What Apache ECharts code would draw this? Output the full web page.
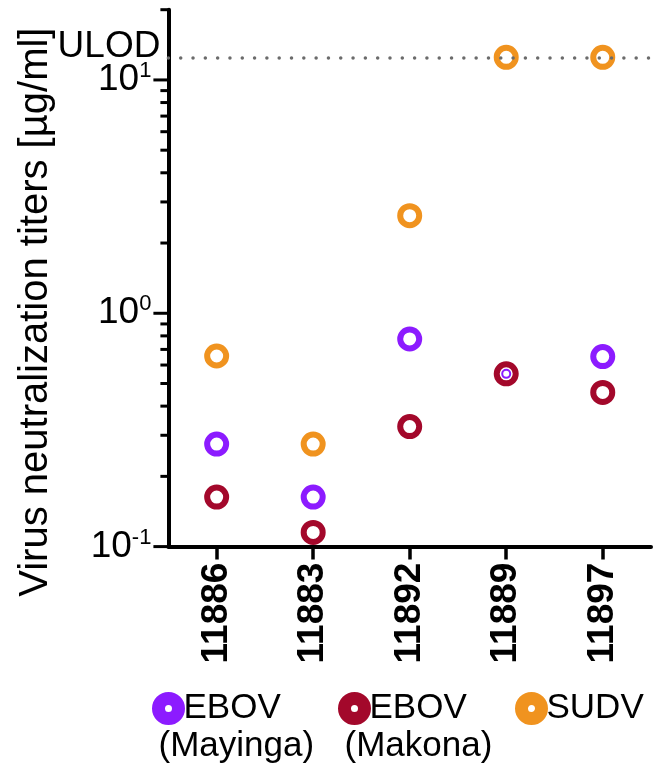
<!DOCTYPE html>
<html><head><meta charset="utf-8">
<script src="https://cdn.jsdelivr.net/npm/echarts@6/dist/echarts.min.js"></script>
<style>html,body{margin:0;padding:0;background:#fff}#c{width:670px;height:772px}</style>
</head><body><div id="c"></div>
<script>
// ---- data ----
const categories = ['11886', '11883', '11892', '11889', '11897'];
const ebovMayinga = [0.275, 0.163, 0.776, 0.55, 0.652];
const ebovMakona  = [0.163, 0.115, 0.327, 0.55, 0.458];
const sudv        = [0.656, 0.275, 2.62, 12.5, 12.5];
const ulod = 12.5;
const yMajorTicks = [0.1, 1, 10];
const yMinorTicks = [0.2, 0.3, 0.4, 0.5, 0.6, 0.7, 0.8, 0.9, 2, 3, 4, 5, 6, 7, 8, 9, 20];
const seriesNames = ['EBOV (Mayinga)', 'EBOV (Makona)', 'SUDV'];
const legendLines = [['EBOV', '(Mayinga)'], ['EBOV', '(Makona)'], ['SUDV']];

// ---- style ----
const colors = ['#8C1BFF', '#A3082B', '#F0931F'];
const FONT = '"Liberation Sans", Arial, Helvetica, sans-serif';
const chart = echarts.init(document.getElementById('c'));

const yMin = 0.1, yMax = 20;
const ringSize = 19, ringWidth = 6;

function ringSeries(idx, values, extra) {
  return Object.assign({
    name: seriesNames[idx],
    type: 'scatter',
    symbol: 'circle',
    symbolSize: ringSize,
    itemStyle: { color: 'rgba(0,0,0,0)', borderColor: colors[idx], borderWidth: ringWidth, opacity: 1 },
    emphasis: { disabled: true },
    data: values
  }, extra || {});
}

// y-axis ticks drawn through the axis scale; the line reaches into the plot
// but only its outer part is stroked (dash pattern)
function tickSeries(name, values, len) {
  return {
    type: 'custom',
    name: name,
    coordinateSystem: 'cartesian2d',
    silent: true,
    clip: false,
    z: 10,
    data: values.map(v => [0, v]),
    renderItem: function (params, api) {
      const p = api.coord([api.value(0), api.value(1)]);
      const x0 = params.coordSys.x;
      return {
        type: 'line',
        shape: { x1: x0 - len, y1: p[1], x2: x0 + 30, y2: p[1] },
        style: { stroke: '#000', lineWidth: 3, lineDash: [len + 1, 200] }
      };
    }
  };
}

const legendRich = {
  t: { fontSize: 35, lineHeight: 38, fontFamily: FONT, color: '#000', padding: [0, 0, 0, 5] },
  u: { fontSize: 35, lineHeight: 38, fontFamily: FONT, color: '#000' }
};
colors.forEach((c, i) => {
  legendRich['r' + i] = { width: 20, height: 20, borderWidth: 6.5, borderColor: c, borderRadius: 10, backgroundColor: 'rgba(0,0,0,0)' };
});
const legendLefts = [152, 338, 515];

const option = {
  animation: false,
  backgroundColor: '#fff',
  grid: { left: 168.4, right: 19, top: 9.7, bottom: 225.4, containLabel: false, outerBoundsMode: 'none' },
  legend: seriesNames.map((n, i) => ({
    data: [n],
    left: legendLefts[i],
    top: 691,
    padding: 0,
    itemWidth: 0,
    itemHeight: 0,
    selectedMode: false,
    formatter: function (name) {
      const k = seriesNames.indexOf(name);
      const lines = legendLines[k];
      let s = '{r' + k + '|}{t|' + lines[0] + '}';
      if (lines[1]) s += '\n{u|' + lines[1] + '}';
      return s;
    },
    textStyle: { fontFamily: FONT, fontSize: 35, color: '#000', rich: legendRich }
  })),
  xAxis: {
    type: 'category',
    data: categories,
    boundaryGap: true,
    axisLine: { show: true, lineStyle: { color: '#000', width: 4 } },
    axisTick: { show: true, alignWithLabel: true, length: 13, lineStyle: { color: '#000', width: 3.5 } },
    axisLabel: { rotate: 90, fontSize: 37, fontWeight: 'bold', color: '#000', fontFamily: FONT, margin: 16 },
    splitLine: { show: false }
  },
  yAxis: {
    type: 'log',
    logBase: 10,
    min: yMin,
    max: yMax,
    position: 'left',
    name: 'Virus neutralization titers [µg/ml]',
    nameLocation: 'middle',
    nameRotate: 90,
    nameGap: 112,
    nameTextStyle: { fontSize: 40, color: '#000', fontFamily: FONT, padding: [0, 68, 0, 0] },
    axisLine: { show: true, lineStyle: { color: '#000', width: 4 } },
    axisTick: { show: false },
    axisLabel: {
      margin: 17,
      color: '#000',
      fontFamily: FONT,
      formatter: function (v) {
        const l = Math.log10(v);
        const e = Math.round(l);
        if (Math.abs(l - e) > 1e-6) return '';
        return '{b|10}{s|' + e + '}';
      },
      rich: {
        b: { fontSize: 37, lineHeight: 40, fontFamily: FONT, color: '#000' },
        s: { fontSize: 22, lineHeight: 22, fontFamily: FONT, color: '#000', verticalAlign: 'top' }
      }
    },
    splitLine: { show: false }
  },
  series: [
    ringSeries(0, ebovMayinga.map((v, i) => i === 3 ? { value: v, symbolSize: 8, itemStyle: { borderWidth: 2 } } : v), { z: 4 }),
    ringSeries(1, ebovMakona, { z: 3 }),
    ringSeries(2, sudv, {
      z: 3,
      markLine: {
        silent: true,
        symbol: 'none',
        animation: false,
        lineStyle: { color: '#6b6b6b', width: 3.5, type: [0.01, 12.3], cap: 'round' },
        label: {
          show: true,
          position: 'start',
          distance: 8,
          formatter: '{u|ULOD}',
          rich: { u: { fontSize: 37, fontFamily: FONT, color: '#000', padding: [0, 0, 22, 0] } }
        },
        emphasis: { disabled: true },
        data: [{ yAxis: ulod }]
      }
    }),
    tickSeries('majorTicks', yMajorTicks, 15),
    tickSeries('minorTicks', yMinorTicks, 8)
  ]
};
chart.setOption(option);
</script>
</body></html>
